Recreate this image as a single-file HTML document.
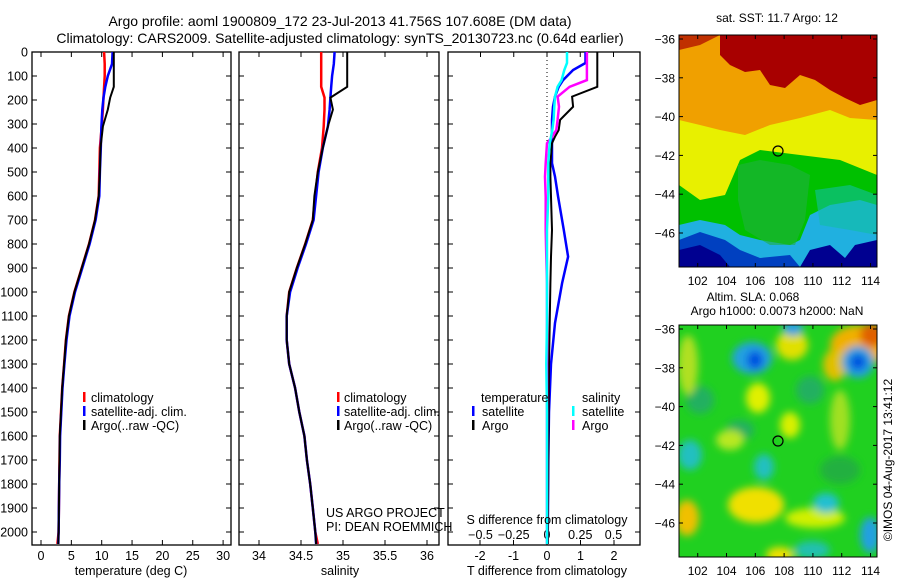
<!DOCTYPE html>
<html><head><meta charset="utf-8">
<style>
html,body{margin:0;padding:0;background:#fff;}
svg{display:block;font-family:"Liberation Sans",sans-serif;}
text{font-size:12.5px;fill:#000;}
</style></head>
<body>
<svg id="fig" width="900" height="580" viewBox="0 0 900 580" xmlns="http://www.w3.org/2000/svg">
<defs>
 <filter id="blur4" x="-20%" y="-20%" width="140%" height="140%"><feGaussianBlur stdDeviation="4"/></filter>
 <clipPath id="clipm1"><rect x="679" y="35" width="198" height="232"/></clipPath>
 <clipPath id="clipm2"><rect x="679" y="325" width="198" height="232"/></clipPath>
</defs>
<text x="340" y="26" text-anchor="middle" style="font-size:14px">Argo profile: aoml 1900809_172 23-Jul-2013 41.756S 107.608E (DM data)</text>
<text x="340" y="43" text-anchor="middle" style="font-size:14px">Climatology: CARS2009. Satellite-adjusted climatology: synTS_20130723.nc (0.64d earlier)</text>

<g id="p1"></g>
<g id="p2"></g>
<g id="p3"></g>
<g id="yl"></g>

<g>
 <rect x="83" y="392" width="2.5" height="10" fill="#f00"/><text x="91" y="402">climatology</text>
 <rect x="83" y="406" width="2.5" height="10" fill="#00f"/><text x="91" y="416">satellite-adj. clim.</text>
 <rect x="83" y="420" width="2.5" height="10" fill="#000"/><text x="91" y="430">Argo(..raw -QC)</text>
</g>
<g>
 <rect x="337" y="392" width="2.5" height="10" fill="#f00"/><text x="344" y="402">climatology</text>
 <rect x="337" y="406" width="2.5" height="10" fill="#00f"/><text x="344" y="416">satellite-adj. clim.</text>
 <rect x="337" y="420" width="2.5" height="10" fill="#000"/><text x="344" y="430">Argo(..raw -QC)</text>
</g>
<text x="326" y="517">US ARGO PROJECT</text>
<text x="326" y="531">PI: DEAN ROEMMICH</text>
<g>
 <text x="481" y="402">temperature</text>
 <rect x="472" y="406" width="2.5" height="10" fill="#00f"/><text x="482" y="416">satellite</text>
 <rect x="472" y="420" width="2.5" height="10" fill="#000"/><text x="482" y="430">Argo</text>
 <text x="582" y="402">salinity</text>
 <rect x="572" y="406" width="2.5" height="10" fill="#0ff"/><text x="582" y="416">satellite</text>
 <rect x="572" y="420" width="2.5" height="10" fill="#f0f"/><text x="582" y="430">Argo</text>
</g>
<text x="131" y="575" text-anchor="middle">temperature (deg C)</text>
<text x="340" y="575" text-anchor="middle">salinity</text>
<text x="547" y="524" text-anchor="middle">S difference from climatology</text>
<text x="547" y="575" text-anchor="middle">T difference from climatology</text>

<g>
 <text x="777" y="22" text-anchor="middle" style="font-size:12px">sat. SST: 11.7 Argo: 12</text>
 <g clip-path="url(#clipm1)">
  <rect x="679" y="35" width="198" height="232" fill="#00c000"/>
  <path d="M679,35 H877 V175 L840,160 L800,155 L760,150 L740,160 L725,195 L700,200 L679,185 Z" fill="#e8f000"/>
  <path d="M679,35 H877 V120 L850,118 L830,110 L800,118 L770,125 L745,135 L720,130 L700,125 L679,120 Z" fill="#f0a000"/>
  <path d="M720,35 H877 V100 L860,105 L845,98 L830,90 L815,80 L800,75 L785,88 L770,85 L760,70 L745,72 L730,65 L720,55 Z" fill="#a80000"/>
  <path d="M679,35 H720 L700,45 L679,50 Z" fill="#c03000"/>
  <path d="M679,225 L700,220 L725,225 L740,235 L760,240 L790,245 L800,240 L810,215 L830,205 L860,200 L877,205 V267 H679 Z" fill="#20b0e0"/>
  <path d="M679,240 L700,232 L725,240 L740,250 L760,258 L790,255 L800,267 H679 Z" fill="#0040c0"/>
  <path d="M679,250 L700,245 L720,255 L730,267 H679 Z" fill="#000090"/>
  <path d="M800,267 L810,250 L830,245 L845,258 L855,245 L877,240 V267 Z" fill="#000090"/>
  <path d="M738,165 L760,160 L790,165 L810,175 L805,220 L795,245 L770,245 L745,230 L738,200 Z" fill="#20b040" opacity="0.6"/>
  <path d="M815,190 L850,185 L877,195 V235 L850,230 L820,225 Z" fill="#10c0a0" opacity="0.6"/>
 </g>
 <rect x="679" y="35" width="198" height="232" fill="none" stroke="#000" stroke-width="1"/>
 <circle cx="778" cy="151" r="5" fill="none" stroke="#000" stroke-width="1.2"/>
 <g id="m1ax"></g>
</g>

<g>
 <text x="753" y="301" text-anchor="middle" style="font-size:12px">Altim. SLA: 0.068</text>
 <text x="777" y="315" text-anchor="middle" style="font-size:12px">Argo h1000: 0.0073 h2000: NaN</text>
 <g clip-path="url(#clipm2)">
  <rect x="679" y="325" width="198" height="232" fill="#20d020"/>
  <g filter="url(#blur4)">
   <ellipse cx="700" cy="400" rx="14" ry="14" fill="#20b060"/>
   <ellipse cx="740" cy="430" rx="14" ry="10" fill="#20b060"/>
   <ellipse cx="810" cy="390" rx="14" ry="14" fill="#20b060"/>
   <ellipse cx="840" cy="470" rx="20" ry="14" fill="#20b040"/>
   <ellipse cx="688" cy="365" rx="10" ry="30" fill="#b0e020"/>
   <ellipse cx="792" cy="345" rx="16" ry="15" fill="#e0e000"/>
   <ellipse cx="758" cy="398" rx="12" ry="15" fill="#e0f000"/>
   <ellipse cx="790" cy="425" rx="10" ry="13" fill="#d8f000"/>
   <ellipse cx="730" cy="440" rx="14" ry="10" fill="#b8e820"/>
   <ellipse cx="860" cy="345" rx="30" ry="20" fill="#f0b000"/>
   <ellipse cx="872" cy="335" rx="12" ry="12" fill="#e06000"/>
   <ellipse cx="835" cy="365" rx="12" ry="16" fill="#e0c000"/>
   <ellipse cx="756" cy="505" rx="28" ry="18" fill="#f0e000"/>
   <ellipse cx="687" cy="518" rx="12" ry="18" fill="#f0c000"/>
   <ellipse cx="815" cy="518" rx="30" ry="10" fill="#d0f000"/>
   <ellipse cx="780" cy="555" rx="14" ry="8" fill="#f0e000"/>
   <ellipse cx="752" cy="358" rx="20" ry="16" fill="#20a0e0"/>
   <ellipse cx="755" cy="360" rx="8" ry="9" fill="#0050e0"/>
   <ellipse cx="858" cy="362" rx="16" ry="16" fill="#20a0e0"/>
   <ellipse cx="858" cy="362" rx="8" ry="8" fill="#0050e0"/>
   <ellipse cx="793" cy="328" rx="10" ry="8" fill="#20a0e0"/>
   <ellipse cx="690" cy="455" rx="12" ry="15" fill="#20c0c0"/>
   <ellipse cx="764" cy="467" rx="10" ry="13" fill="#20c0c0"/>
   <ellipse cx="826" cy="503" rx="13" ry="10" fill="#20c0d0"/>
   <ellipse cx="870" cy="535" rx="10" ry="18" fill="#20a0e0"/>
   <ellipse cx="812" cy="550" rx="18" ry="9" fill="#20c0b0"/>
   <ellipse cx="840" cy="420" rx="10" ry="30" fill="#a0e020"/>
  </g>
 </g>
 <rect x="679" y="325" width="198" height="232" fill="none" stroke="#000" stroke-width="1"/>
 <circle cx="778" cy="441" r="5" fill="none" stroke="#000" stroke-width="1.2"/>
 <g id="m2ax"></g>
</g>
<text transform="translate(892,460) rotate(-90)" text-anchor="middle" style="font-size:12px">©IMOS 04-Aug-2017 13:41:12</text>
</svg>

<script>
const profDepths = [0,50,100,145,190,240,310,400,500,600,700,800,900,1000,1100,1200,1300,1400,1500,1600,1700,1800,1900,2000,2050];
const tempArgo = [12.0,12.0,12.0,12.0,11.4,11.0,10.2,9.8,9.7,9.5,8.9,7.9,6.7,5.5,4.6,4.1,3.8,3.5,3.3,3.1,3.05,3.0,2.95,2.9,2.85];
const tempSat  = [11.8,11.7,11.0,10.6,10.3,10.1,9.95,9.85,9.7,9.6,9.0,8.0,6.8,5.6,4.7,4.2,3.85,3.55,3.35,3.15,3.1,3.0,2.95,2.9,2.85];
const tempClim = [10.4,10.5,10.5,10.4,10.3,10.2,10.0,9.7,9.6,9.5,8.9,7.9,6.7,5.5,4.6,4.1,3.8,3.5,3.3,3.1,3.05,3.0,2.95,2.9,2.7];
const salArgo = [35.05,35.05,35.05,35.05,34.85,34.88,34.82,34.76,34.70,34.66,34.64,34.55,34.45,34.36,34.33,34.33,34.36,34.43,34.48,34.54,34.57,34.61,34.64,34.67,34.68];
const salSat  = [34.90,34.89,34.87,34.86,34.85,34.84,34.82,34.76,34.71,34.68,34.65,34.56,34.46,34.37,34.33,34.33,34.36,34.43,34.48,34.54,34.57,34.61,34.64,34.67,34.68];
const salClim = [34.74,34.74,34.74,34.74,34.78,34.78,34.77,34.75,34.70,34.67,34.64,34.55,34.45,34.36,34.33,34.33,34.36,34.43,34.48,34.54,34.57,34.61,34.64,34.67,34.70];
const diffDepths = [0,46,75,117,145,186,228,283,325,353,380,463,519,603,742,853,963,1129,1300,1500,1700,1900,2050];
const tDiffSat  = [1.15,1.15,0.78,0.48,0.35,0.24,0.18,0.15,0.15,0.15,0.15,0.15,0.24,0.33,0.5,0.63,0.45,0.24,0.12,0.06,0.04,0.03,0.02];
const tDiffArgo = [1.5,1.5,1.5,1.5,1.5,0.75,0.78,0.39,0.35,0.24,0.15,0.1,0.1,0.12,0.15,0.12,0.1,0.08,0.06,0.05,0.04,0.03,0.03];
const sDiffArgo = [0.30,0.30,0.30,0.30,0.17,0.08,0.09,0.08,0.07,0.04,0.0,-0.01,-0.015,-0.01,-0.01,-0.005,0,0,0,0,0,0,0];
const sDiffSat  = [0.15,0.15,0.13,0.11,0.08,0.06,0.055,0.05,0.04,0.03,0.02,0.01,0.01,0.01,0.0,0.0,0,0,-0.005,0,0,0,0];
const depthTicks = [0,100,200,300,400,500,600,700,800,900,1000,1100,1200,1300,1400,1500,1600,1700,1800,1900,2000];
const tempTicks = [0,5,10,15,20,25,30];
const salTicks = [34,34.5,35,35.5,36];
const tDiffTicks = [-2,-1,0,1,2];
const sDiffTicks = [-0.5,-0.25,0,0.25,0.5];
const lonTicks = [102,104,106,108,110,112,114];
const latTicks = [-36,-38,-40,-42,-44,-46];

const NS='http://www.w3.org/2000/svg';
function mk(tag, attrs, parent){const e=document.createElementNS(NS,tag);for(const k in attrs)e.setAttribute(k,attrs[k]);parent.appendChild(e);return e;}
const TOP=52, BOT=545;
const yD = d => TOP + d*0.24;
const xT = v => 41 + v*6.07;
const xS = v => 259 + (v-34)*84;
const xTd = v => 547 + v*33.5;
const xSd = v => 547 + v*133;

function frame(g,x0,x1,ticksB,fx,ticksT,fxT){
  const r=mk('rect',{x:x0,y:TOP,width:x1-x0,height:BOT-TOP,fill:'none',stroke:'#000','stroke-width':1.3},g);
  
  
  depthTicks.forEach(d=>{
    mk('line',{x1:x0,x2:x0+5,y1:yD(d),y2:yD(d),stroke:'#000'},g);
    mk('line',{x1:x1-5,x2:x1,y1:yD(d),y2:yD(d),stroke:'#000'},g);
  });
  ticksB.forEach(t=>{
    const x=fx(t);
    mk('line',{x1:x,x2:x,y1:BOT-5,y2:BOT,stroke:'#000'},g);
    const tx=mk('text',{x:x,y:560,'text-anchor':'middle'},g);tx.textContent=String(t);
    
    
    if(!ticksT) mk('line',{x1:x,x2:x,y1:TOP,y2:TOP+5,stroke:'#000'},g);
  });
  if(ticksT) ticksT.forEach(t=>{
    const x=fxT(t);
    mk('line',{x1:x,x2:x,y1:TOP,y2:TOP+5,stroke:'#000'},g);
    const tx=mk('text',{x:x,y:539,'text-anchor':'middle'},g);tx.textContent=String(t).replace('-','\u2212');
    
    
  });
}
function line(g,deps,vals,fx,color,w,name){
  const pts=vals.map((v,i)=>fx(v).toFixed(1)+','+yD(deps[i]).toFixed(1)).join(' ');
  const p=mk('polyline',{points:pts,fill:'none',stroke:color,'stroke-width':w},g);
  
  
}
const p1=document.getElementById('p1'),p2=document.getElementById('p2'),p3=document.getElementById('p3');
frame(p1,32,231,tempTicks,xT);
frame(p2,239,439,salTicks,xS);
frame(p3,448,640,tDiffTicks,xTd,sDiffTicks,xSd);
line(p1,profDepths,tempClim,xT,'#f00',2.5,'temperature-climatology-line');
line(p1,profDepths,tempSat,xT,'#00f',2.5,'temperature-satellite-line');
line(p1,profDepths,tempArgo,xT,'#000',2,'temperature-argo-line');
line(p2,profDepths,salClim,xS,'#f00',2.5,'salinity-climatology-line');
line(p2,profDepths,salSat,xS,'#00f',2.5,'salinity-satellite-line');
line(p2,profDepths,salArgo,xS,'#000',2,'salinity-argo-line');
const z=mk('line',{x1:xTd(0),x2:xTd(0),y1:TOP,y2:yD(400),stroke:'#000','stroke-dasharray':'1,3'},p3);


line(p3,diffDepths,tDiffSat,xTd,'#00f',2.5,'t-diff-satellite-line');
line(p3,diffDepths,tDiffArgo,xTd,'#000',2,'t-diff-argo-line');
line(p3,diffDepths,sDiffArgo,xSd,'#f0f',2.5,'s-diff-argo-line');
line(p3,diffDepths,sDiffSat,xSd,'#0ff',2.5,'s-diff-satellite-line');

const yl=document.getElementById('yl');
depthTicks.forEach(d=>{
  const t=mk('text',{x:28,y:yD(d)+4.5,'text-anchor':'end'},yl);t.textContent=String(d);
  
  
});

function mapAxes(id,top){
  const g=document.getElementById(id);
  const xL = l => 679 + (l-100.7)*14.4;
  const yL = l => top + 4 + (-36 - l)*19.4;
  lonTicks.forEach(l=>{
    mk('line',{x1:xL(l),x2:xL(l),y1:top,y2:top+4,stroke:'#000'},g);
    mk('line',{x1:xL(l),x2:xL(l),y1:top+228,y2:top+232,stroke:'#000'},g);
    const t=mk('text',{x:xL(l),y:top+250,'text-anchor':'middle',style:'font-size:12px'},g);t.textContent=String(l);
    
    
  });
  latTicks.forEach(l=>{
    mk('line',{x1:679,x2:683,y1:yL(l),y2:yL(l),stroke:'#000'},g);
    mk('line',{x1:873,x2:877,y1:yL(l),y2:yL(l),stroke:'#000'},g);
    const t=mk('text',{x:675,y:yL(l)+4.5,'text-anchor':'end',style:'font-size:12px'},g);t.textContent=String(l).replace('-','\u2212');
    
    
  });
}
mapAxes('m1ax',35);
mapAxes('m2ax',325);
</script>
</body></html>
